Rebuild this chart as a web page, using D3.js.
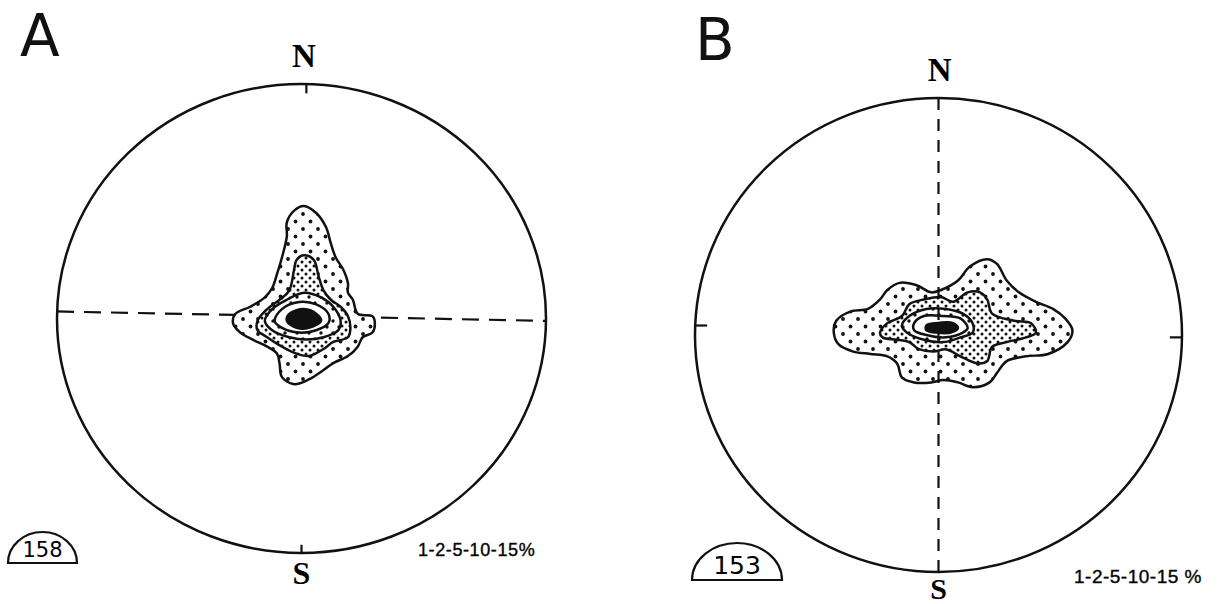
<!DOCTYPE html>
<html>
<head>
<meta charset="utf-8">
<script src="https://cdn.jsdelivr.net/npm/d3@7"></script>
<style>
  body { margin: 0; background: #fff; }
  svg { display: block; }
</style>
</head>
<body>
<div id="chart"></div>
<script>
// contour levels, outer to inner
const levels = ['1%', '2%', '5%', '10%', '15%'];

// contour outlines in % of net radius (x east, y north)
const contoursA = [
  [[1,48],[6,45],[10,39],[12,32],[14,26],[17,21],[19,15],[19,11],[21,8],[23,2],[29,1],[30,-2],[29,-6],[25,-8],[23,-12],[19,-16],[13,-19],[9,-22],[3,-26],[-3,-28],[-8,-25],[-9,-19],[-10,-15],[-14,-12],[-20,-9],[-25,-6],[-28,-2],[-27,2],[-21,5],[-15,9],[-12,13],[-10,19],[-8,26],[-6,35],[-6,41],[-3,46]],
  [[1,27],[5,25],[7,18],[9,12],[12,8],[16,5],[19,1],[20,-4],[19,-8],[13,-10],[9,-13],[3,-16],[-2,-15],[-8,-12],[-14,-8],[-18,-5],[-18,-1],[-14,4],[-9,8],[-5,12],[-3,21],[-2,25]],
  [[-6,8],[1,11],[8,9],[13,5],[16,-1],[15,-5],[9,-8],[2,-9],[-5,-8],[-12,-5],[-15,-1],[-12,4]],
  [[-8,4],[-1,7],[6,6],[11,2],[11,-2],[6,-5],[-1,-6],[-8,-4],[-11,-1]],
  [[-5,2],[1,4],[6,2],[8,-1],[3,-4],[-2,-4],[-6,-1]]
];

const contoursB = [
  [[-42,6],[-36,10],[-29,11],[-24,15],[-21,19],[-16,22],[-9,21],[-3,18],[1,19],[8,23],[13,29],[20,32],[24,30],[28,23],[33,18],[40,14],[47,11],[52,7],[55,2],[53,-3],[45,-8],[36,-9],[28,-11],[24,-16],[21,-20],[14,-22],[8,-20],[2,-19],[-3,-20],[-10,-20],[-15,-18],[-17,-12],[-21,-9],[-28,-8],[-35,-7],[-41,-4],[-43,1]],
  [[-24,1],[-21,5],[-15,8],[-12,13],[-6,15],[1,16],[6,14],[12,18],[17,18],[20,15],[22,9],[31,6],[38,5],[40,1],[36,-1],[28,-3],[22,-5],[20,-11],[16,-12],[9,-9],[3,-6],[-2,-7],[-8,-6],[-12,-3],[-17,-2],[-23,-1]],
  [[-15,4],[-12,8],[-5,11],[3,11],[10,9],[14,5],[14,1],[9,-1],[2,-3],[-6,-2],[-13,1]],
  [[-10,5],[-6,8],[2,8],[9,7],[12,3],[10,1],[3,-1],[-5,0],[-10,2]],
  [[-5,4],[-1,5],[6,5],[8,3],[5,1],[-1,1],[-5,2]]
];

const countA = '158';
const countB = '153';
const legendA = '1-2-5-10-15%';
const legendB = '1-2-5-10-15 %';

const W = 1218, H = 604;
const svg = d3.select('#chart').append('svg')
  .attr('width', W)
  .attr('height', H);

svg.append('rect').attr('width', W).attr('height', H).attr('fill', '#fff');

// dot patterns for the density bands
const defs = svg.append('defs');
const patternSpecs = [
  { id: 'band0', size: 15, r: 1.9, dots: [[3, 4], [10.5, 11.5]] },
  { id: 'band1', size: 8, r: 1.5, dots: [[2, 2], [6, 6]] },
  { id: 'band2', size: 12, r: 1.7, dots: [[3, 3], [9, 9]] }
];
patternSpecs.forEach(p => {
  const pat = defs.append('pattern')
    .attr('id', p.id)
    .attr('patternUnits', 'userSpaceOnUse')
    .attr('width', p.size)
    .attr('height', p.size);
  pat.append('rect').attr('width', p.size).attr('height', p.size).attr('fill', '#fff');
  pat.selectAll('circle').data(p.dots).enter().append('circle')
    .attr('cx', d => d[0]).attr('cy', d => d[1]).attr('r', p.r).attr('fill', '#111');
});
const bandFill = ['url(#band0)', 'url(#band1)', 'url(#band2)', '#fff', '#111'];

function drawNet(opts) {
  const x = d3.scaleLinear().domain([-100, 100]).range([opts.cx - opts.rx, opts.cx + opts.rx]);
  const y = d3.scaleLinear().domain([-100, 100]).range([opts.cy + opts.ry, opts.cy - opts.ry]);
  const g = svg.append('g');

  const line = d3.line()
    .x(d => x(d[0]))
    .y(d => y(d[1]))
    .curve(d3.curveCatmullRomClosed.alpha(0.5));

  const dashLine = d3.line().x(d => x(d[0])).y(d => y(d[1]));

  const drawDash = () => g.append('path')
    .attr('d', dashLine(opts.axis))
    .attr('fill', 'none')
    .attr('stroke', '#111')
    .attr('stroke-width', 2.2)
    .attr('stroke-dasharray', opts.dash);

  if (!opts.dashOnTop) drawDash();

  // contour bands
  g.selectAll('.contour')
    .data(opts.contours)
    .enter().append('path')
    .attr('class', 'contour')
    .attr('d', d => line(d))
    .attr('fill', (d, i) => bandFill[i])
    .attr('stroke', '#111')
    .attr('stroke-width', 2.5)
    .attr('stroke-linejoin', 'round');

  if (opts.dashOnTop) drawDash();

  // primitive circle
  g.append('ellipse')
    .attr('cx', x(0)).attr('cy', y(0))
    .attr('rx', x(100) - x(0)).attr('ry', y(0) - y(100))
    .attr('fill', 'none')
    .attr('stroke', '#111')
    .attr('stroke-width', 2.5);

  // ticks on the primitive
  opts.ticks.forEach(t => {
    g.append('line')
      .attr('x1', x(t[0])).attr('y1', y(t[1]))
      .attr('x2', x(t[2])).attr('y2', y(t[3]))
      .attr('stroke', '#111')
      .attr('stroke-width', 2.2);
  });

  // N / S
  g.append('text')
    .attr('x', x(opts.nx)).attr('y', y(100) - 17)
    .attr('text-anchor', 'middle')
    .style('font-family', '"Liberation Serif", serif')
    .style('font-weight', 'bold')
    .style('font-size', '33px')
    .text('N');
  g.append('text')
    .attr('x', x(opts.sx)).attr('y', y(-100) + opts.sOff)
    .attr('text-anchor', 'middle')
    .style('font-family', '"Liberation Serif", serif')
    .style('font-weight', 'bold')
    .style('font-size', opts.sFs + 'px')
    .text('S');

  // panel letter
  svg.append('text')
    .attr('x', opts.letterX).attr('y', opts.letterY)
    .style('font-family', '"DejaVu Sans", sans-serif')
    .style('font-size', '58px')
    .style('fill', '#111')
    .text(opts.letter);

  // count dome
  const d0 = opts.dome;
  svg.append('path')
    .attr('d', `M${d0.x0},${d0.yb} A${(d0.x1 - d0.x0) / 2},${d0.h} 0 0 1 ${d0.x1},${d0.yb} Z`)
    .attr('fill', 'none')
    .attr('stroke', '#111')
    .attr('stroke-width', 2.2);
  svg.append('text')
    .attr('x', (d0.x0 + d0.x1) / 2).attr('y', d0.yb - 6)
    .attr('text-anchor', 'middle')
    .style('font-family', '"DejaVu Sans", sans-serif')
    .style('font-size', d0.fs + 'px')
    .text(opts.count);

  // legend
  svg.append('text')
    .attr('x', opts.legX).attr('y', opts.legY)
    .style('font-family', '"Liberation Sans", sans-serif')
    .style('font-size', opts.legFs + 'px')
    .style('letter-spacing', opts.legLs + 'px')
    .style('stroke', '#111')
    .style('stroke-width', 0.4)
    .text(opts.legend);
}

drawNet({
  letter: 'A', letterX: 20, letterY: 56,
  cx: 301.5, cy: 318.5, rx: 244.5, ry: 234.5,
  contours: contoursA,
  axis: [[-100, 3], [100, -1]],
  dash: '17,10', dashOnTop: false,
  ticks: [[2, 100, 2, 96], [0, -100, 0, -96.5]],
  nx: 1, sx: 0, sOff: 31, sFs: 32,
  count: countA,
  dome: { x0: 8, x1: 77, yb: 563, h: 31, fs: 21 },
  legend: legendA, legX: 418, legY: 556, legFs: 18, legLs: 0.6
});

drawNet({
  letter: 'B', letterX: 695, letterY: 60,
  cx: 938.5, cy: 335, rx: 243.5, ry: 237,
  contours: contoursB,
  axis: [[0, 100], [0, -100]],
  dash: '12,9', dashOnTop: true,
  ticks: [[-100, 4, -95, 4], [100, -1, 95, -1]],
  nx: 0.5, sx: 0, sOff: 27, sFs: 30,
  count: countB,
  dome: { x0: 692, x1: 782, yb: 580, h: 37, fs: 25 },
  legend: legendB, legX: 1074, legY: 583, legFs: 19, legLs: 0.5
});
</script>
</body>
</html>
